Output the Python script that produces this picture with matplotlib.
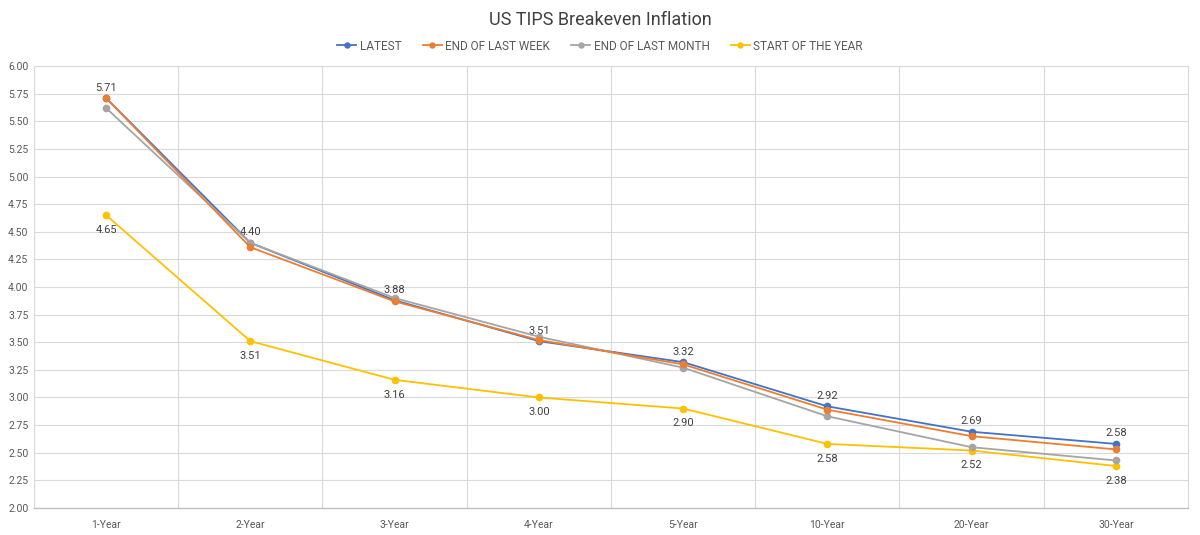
import matplotlib
matplotlib.use("Agg")
import matplotlib.pyplot as plt
from matplotlib.ticker import MultipleLocator, FixedLocator

categories = ["1-Year", "2-Year", "3-Year", "4-Year", "5-Year", "10-Year", "20-Year", "30-Year"]
latest = [5.71, 4.40, 3.88, 3.51, 3.32, 2.92, 2.69, 2.58]
end_last_week = [5.71, 4.36, 3.87, 3.52, 3.30, 2.89, 2.65, 2.53]
end_last_month = [5.62, 4.40, 3.90, 3.55, 3.27, 2.83, 2.55, 2.43]
start_of_year = [4.65, 3.51, 3.16, 3.00, 2.90, 2.58, 2.52, 2.38]

plt.rcParams['font.family'] = ['Roboto', 'DejaVu Sans']

fig = plt.figure(figsize=(12, 5.35), dpi=100)
ax = fig.add_axes([0.0283, 0.0505, 0.9617, 0.8261])

x = list(range(len(categories)))
series = [
    ("LATEST", latest, "#4472C4"),
    ("END OF LAST WEEK", end_last_week, "#ED7D31"),
    ("END OF LAST MONTH", end_last_month, "#A5A5A5"),
    ("START OF THE YEAR", start_of_year, "#FFC000"),
]
order = [3, 0, 1, 2]
handles = {}
for i in order:
    name, vals, col = series[i]
    h, = ax.plot(x, vals, color=col, lw=1.3, marker="o", ms=4.5, label=name,
                 zorder=3 + (i == 1) + (i == 2) * 0.5)
    handles[name] = h

for xi, v in zip(x, latest):
    ax.annotate(f"{v:.2f}", (xi, v), xytext=(0, 4), textcoords="offset points",
                ha="center", va="bottom", fontsize=8, color="#404040")
for xi, v in zip(x, start_of_year):
    ax.annotate(f"{v:.2f}", (xi, v), xytext=(0, -7), textcoords="offset points",
                ha="center", va="top", fontsize=8, color="#404040")

ax.set_xlim(-0.5, len(categories) - 0.5)
ax.set_ylim(2.0, 6.0)
ax.yaxis.set_major_locator(MultipleLocator(0.25))
ax.yaxis.set_major_formatter(matplotlib.ticker.FormatStrFormatter("%.2f"))
ax.set_xticks(x)
ax.set_xticklabels(categories)
ax.xaxis.set_minor_locator(FixedLocator([i + 0.5 for i in range(len(categories) - 1)]))

ax.grid(axis="y", which="major", color="#D9D9D9", lw=0.8)
ax.grid(axis="x", which="minor", color="#D9D9D9", lw=0.8)
ax.grid(axis="x", which="major", visible=False)
ax.set_axisbelow(True)

for s in ["top", "right", "left"]:
    ax.spines[s].set_color("#D9D9D9")
    ax.spines[s].set_linewidth(0.8)
ax.spines["bottom"].set_color("#BFBFBF")
ax.spines["bottom"].set_linewidth(1.0)

ax.tick_params(axis="both", which="both", length=0, labelsize=7.5, colors="#595959")
ax.tick_params(axis="x", pad=9)
ax.tick_params(axis="y", pad=4)

fig.suptitle("US TIPS Breakeven Inflation", y=0.98, fontsize=13, color="#404040")
names = [s[0] for s in series]
fig.legend([handles[n] for n in names], names, loc="center", bbox_to_anchor=(0.5, 0.914),
           ncol=4, frameon=False, fontsize=8.5, handlelength=1.6, handletextpad=0.3,
           columnspacing=1.8, labelcolor="#595959", markerscale=0.8)

fig.savefig("out.png", dpi=100, facecolor="white")
